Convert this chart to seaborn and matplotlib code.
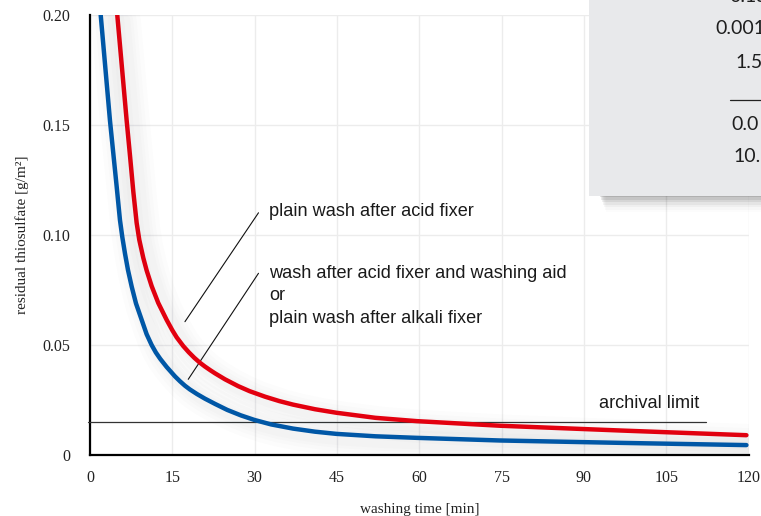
import matplotlib
matplotlib.use("Agg")
import matplotlib.pyplot as plt
import matplotlib.patheffects as pe
from matplotlib.patches import Rectangle
from matplotlib.lines import Line2D
import seaborn as sns
import pandas as pd

# ---- data ----
red_t = [4.97, 6.68, 7.29, 7.9, 8.5, 8.98, 9.71, 10.32, 11.23, 12.44, 13.97, 15.0, 15.79,
         17.0, 18.0, 19.0, 20.0, 20.95, 22.0, 22.8, 24.6, 27.0, 29.1, 31.9, 34.5, 37.0,
         41.0, 44.9, 52.0, 59.5, 74.7, 97.0, 119.6]
red_y = [0.200, 0.152, 0.136, 0.1195, 0.1055, 0.0978, 0.0896, 0.0839, 0.0768, 0.0691, 0.0614,
         0.0567, 0.0535, 0.0495, 0.0467, 0.0442, 0.0420, 0.0402, 0.0384, 0.0371, 0.0344,
         0.0313, 0.0290, 0.0265, 0.0245, 0.0229, 0.0208, 0.0192, 0.0169, 0.0154, 0.0133,
         0.0111, 0.0090]
blue_t = [1.95, 3.64, 4.25, 4.86, 5.46, 5.89, 6.38, 6.92, 7.6, 8.38, 9.42, 10.32, 11.23, 12.0,
          12.8, 13.97, 15.5, 16.4, 17.3, 18.2, 19.5, 20.95, 22.8, 25.0, 27.5, 30.0, 33.0,
          37.0, 41.0, 44.9, 52.0, 59.5, 74.7, 97.0, 119.6]
blue_y = [0.200, 0.152, 0.137, 0.122, 0.1068, 0.0990, 0.0915, 0.0841, 0.0765, 0.0689, 0.0614,
          0.0549, 0.0500, 0.0466, 0.0437, 0.0400, 0.0357, 0.0335, 0.0315, 0.0298, 0.0277,
          0.0256, 0.0232, 0.0205, 0.0180, 0.0159, 0.0139, 0.0120, 0.0106, 0.0096, 0.0085,
          0.0078, 0.0066, 0.0055, 0.0045]
archival_limit = 0.015
archival_range = [-0.3, 112.3]
x_ticks = [0, 15, 30, 45, 60, 75, 90, 105, 120]
y_ticks = [0, 0.05, 0.10, 0.15, 0.20]
y_ticklabels = ["0", "0.05", "0.10", "0.15", "0.20"]
label_acid = "plain wash after acid fixer"
label_aid = ["wash after acid fixer and washing aid", "or", "plain wash after alkali fixer"]
box_texts = ["0.15", "0.001", "1.5", "0.0", "10."]

RED = "#e3000f"
BLUE = "#0057a6"
SANS = ["Liberation Sans", "DejaVu Sans"]

sns.set_style("white")
plt.rcParams["font.family"] = ["Liberation Serif", "DejaVu Serif"]

fig = plt.figure(figsize=(7.61, 5.16), dpi=100)
ax = fig.add_axes([90 / 761, 61 / 516, 658.6 / 761, 440 / 516])

df_red = pd.DataFrame({"t": red_t, "y": red_y})
df_blue = pd.DataFrame({"t": blue_t, "y": blue_y})

shadow = [pe.SimpleLineShadow(offset=(5, -4), shadow_color="#303840", alpha=0.012, rho=1.0,
                              linewidth=w) for w in (24, 18, 13, 9)] + [pe.Normal()]

sns.lineplot(data=df_red, x="t", y="y", ax=ax, color=RED, linewidth=3.2, sort=False,
             estimator=None, zorder=4)
sns.lineplot(data=df_blue, x="t", y="y", ax=ax, color=BLUE, linewidth=3.2, sort=False,
             estimator=None, zorder=5)
for ln in ax.get_lines():
    ln.set_path_effects(shadow)
    ln.set_solid_capstyle("round")
    ln.set_solid_joinstyle("round")

# archival limit line
ax.plot(archival_range, [archival_limit, archival_limit], color="#333333", lw=0.9,
        zorder=3, clip_on=False)
ax.text(92.7, 0.0235, "archival limit", fontsize=13.1, family=SANS,
        color="#1a1a1a", ha="left", va="center", zorder=6)

# annotations
ax.annotate("", xy=(17.3, 0.0606), xytext=(30.7, 0.1101),
            arrowprops=dict(arrowstyle="-", color="#111111", lw=0.8, shrinkA=0, shrinkB=0))
ax.annotate("", xy=(17.9, 0.0344), xytext=(30.7, 0.0826),
            arrowprops=dict(arrowstyle="-", color="#111111", lw=0.8, shrinkA=0, shrinkB=0))
ax.text(32.7, 0.1106, label_acid, fontsize=13.1, family=SANS,
        color="#1a1a1a", ha="left", va="center", zorder=6)
for yv, line in zip([0.0826, 0.0723, 0.0620], label_aid):
    ax.text(32.7, yv, line, fontsize=13.1, family=SANS,
            color="#1a1a1a", ha="left", va="center", zorder=6)

ax.set_xlim(0, 120)
ax.set_ylim(0, 0.2)
ax.set_xticks(x_ticks)
ax.set_xticklabels([str(v) for v in x_ticks])
ax.set_yticks(y_ticks)
ax.set_yticklabels(y_ticklabels)
ax.set_xticks([v for v in range(0, 121, 5) if v % 15 != 0], minor=True)
ax.set_yticks([i / 100 for i in range(0, 21) if i % 5 != 0], minor=True)
ax.tick_params(axis="both", which="major", direction="out", length=8, width=1.5,
               color="black", labelsize=11.5, labelcolor="#222222")
ax.tick_params(axis="x", which="major", pad=3)
ax.tick_params(axis="y", which="major", pad=6)
ax.tick_params(axis="both", which="minor", direction="out", length=4.5, width=1.3,
               color="black")
ax.grid(True, which="major", color="#ececec", lw=1.0, zorder=0)
ax.set_axisbelow(True)
for s in ("top", "right"):
    ax.spines[s].set_visible(False)
for s in ("left", "bottom"):
    ax.spines[s].set_color("black")
    ax.spines[s].set_linewidth(1.6)

ax.set_xlabel("washing time [min]", fontsize=11, color="#222222", labelpad=12)
ax.set_ylabel("residual thiosulfate [g/m²]", fontsize=11, color="#222222", labelpad=10)
ax.set_facecolor("white")

# ---- grey info box at top right (partially outside the figure) ----
W, H = 761.0, 516.0
for i, a in enumerate([0.10, 0.08, 0.06, 0.045, 0.03, 0.02, 0.012]):
    fig.patches.append(Rectangle(((600 + i) / W, (H - 197 - 2.5 * i) / H), (170 - i) / W,
                                 (4 + 2.5 * i) / H, transform=fig.transFigure,
                                 facecolor="black", alpha=a, edgecolor="none", zorder=8))
fig.patches.append(Rectangle((589 / W, (H - 195.5) / H), 200 / W, 200 / H,
                             transform=fig.transFigure, facecolor="#e8e9eb",
                             edgecolor="none", zorder=9))
box_pos = [(729, -4), (715, 29), (735, 62), (731, 125), (733, 156)]
for (bx, by), txt in zip(box_pos, box_texts):
    fig.text(bx / W, 1 - by / H, txt, fontsize=14, family=["Lato", "DejaVu Sans"],
             color="#1e1e1e", ha="left", va="center", zorder=10)
fig.lines.append(Line2D([730 / W, 1.0], [1 - 99.5 / H, 1 - 99.5 / H],
                        transform=fig.transFigure, color="#222222", lw=0.9, zorder=10))

fig.savefig("out.png", dpi=100)
